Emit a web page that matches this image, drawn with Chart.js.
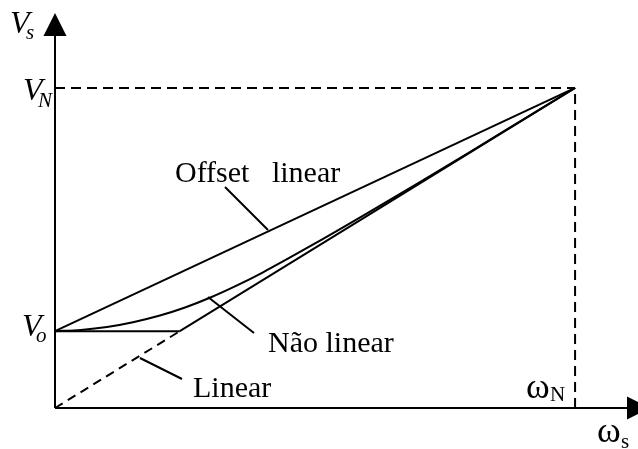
<!DOCTYPE html>
<html>
<head>
<meta charset="utf-8">
<script src="https://cdn.jsdelivr.net/npm/chart.js@4/dist/chart.umd.min.js"></script>
<style>
  html, body { margin: 0; padding: 0; background: #fff; }
  #wrap { width: 638px; height: 449px; }
</style>
</head>
<body>
<div id="wrap"><canvas id="vf"></canvas></div>
<script>
// V/f curves: stator voltage vs. frequency, normalised to rated values
const V0 = 0.24;
const ratedX = [0, 1];
const ratedY = [1, 1];

const offsetX = [0, 1];
const offsetY = [V0, 1];

const linearX = [0, V0, 1];
const linearY = [0, V0, 1];

const boostX = [0, V0];
const boostY = [V0, V0];

const naoX = [0, 0.05, 0.1, 0.15, 0.2, 0.25, 0.3, 0.35, 0.4, 0.5, 0.6, 0.7, 0.8, 0.9, 1];
const naoY = [V0, 0.244, 0.253, 0.268, 0.288, 0.314, 0.346, 0.383, 0.424, 0.514, 0.608, 0.704, 0.802, 0.901, 1];

const curveNames = ['Offset   linear', 'Não linear', 'Linear'];

function pts(xs, ys) {
  return xs.map((x, i) => ({ x: x, y: ys[i] }));
}

const serif = '"Liberation Serif", "Times New Roman", serif';

const sketch = {
  id: 'sketch',
  afterDraw(chart) {
    const c = chart.ctx;
    const xs = chart.scales.x, ys = chart.scales.y;
    const ox = xs.getPixelForValue(0), oy = ys.getPixelForValue(0);
    const top = chart.chartArea.top, right = chart.chartArea.right;
    c.save();
    c.strokeStyle = '#000';
    c.fillStyle = '#000';
    c.lineWidth = 2;
    // axes
    c.beginPath();
    c.moveTo(ox, oy); c.lineTo(ox, top + 20);
    c.moveTo(ox, oy); c.lineTo(right - 8, oy);
    c.stroke();
    // arrow heads
    c.beginPath();
    c.moveTo(ox, top); c.lineTo(ox - 11.5, top + 23); c.lineTo(ox + 11.5, top + 23);
    c.closePath(); c.fill();
    c.beginPath();
    c.moveTo(right + 12, oy); c.lineTo(right - 11, oy - 11.5); c.lineTo(right - 11, oy + 11.5);
    c.closePath(); c.fill();

    // leader lines
    c.beginPath();
    c.moveTo(225, 187); c.lineTo(268, 230);
    c.moveTo(208, 297); c.lineTo(254, 333);
    c.moveTo(140, 358); c.lineTo(182, 379);
    c.stroke();

    // curve labels
    c.textBaseline = 'alphabetic';
    c.textAlign = 'left';
    c.font = '30px ' + serif;
    c.fillText(curveNames[0], 175, 182);
    c.fillText(curveNames[1], 268, 352);
    c.fillText(curveNames[2], 193, 397);

    // axis symbols
    const yO = ys.getPixelForValue(V0);
    c.font = 'italic 32px ' + serif;
    c.fillText('V', 10, 33);
    c.fillText('V', 23, 100);
    c.fillText('V', 22, yO + 5);
    c.font = 'italic 21px ' + serif;
    c.fillText('s', 26, 39);
    c.fillText('N', 38, 107);
    c.fillText('o', 36, yO + 11);

    c.font = '36px ' + serif;
    c.fillText('ω', 526, 398);
    c.fillText('ω', 597, 442);
    c.font = '21px ' + serif;
    c.fillText('N', 550, 401);
    c.fillText('s', 621, 448);
    c.restore();
  }
};

const line = (data, extra) => Object.assign({
  data: data,
  borderColor: '#000',
  borderWidth: 2,
  pointRadius: 0,
  fill: false,
  clip: false,
  tension: 0
}, extra);

new Chart(document.getElementById('vf'), {
  type: 'line',
  data: {
    datasets: [
      line(pts(ratedX, ratedY), { borderDash: [10, 6] }),
      line(pts([1, 1], [0, 1]), { borderDash: [10, 6] }),
      line(pts(offsetX, offsetY)),
      line(pts(boostX, boostY)),
      line(pts(linearX, linearY), {
        segment: { borderDash: ctx => ctx.p0DataIndex === 0 ? [9, 6] : undefined }
      }),
      line(pts(naoX, naoY), { cubicInterpolationMode: 'monotone' })
    ]
  },
  options: {
    responsive: true,
    maintainAspectRatio: false,
    animation: false,
    events: [],
    layout: { padding: { left: 55, right: 0, top: 13, bottom: 41 } },
    plugins: { legend: { display: false }, tooltip: { enabled: false } },
    scales: {
      x: { type: 'linear', display: false, min: 0, max: 1.121 },
      y: { type: 'linear', display: false, min: 0, max: 1.234 }
    }
  },
  plugins: [sketch]
});
</script>
</body>
</html>
